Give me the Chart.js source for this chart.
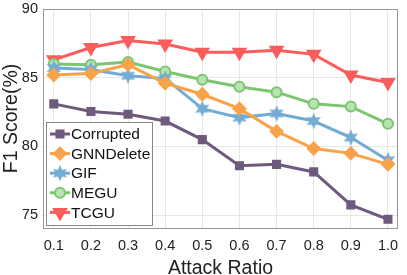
<!DOCTYPE html>
<html><head><meta charset="utf-8">
<script src="https://cdn.jsdelivr.net/npm/chart.js@4"></script>
<style>html,body{margin:0;padding:0;background:#fff}#w{width:407px;height:275px}</style>
</head><body><div id="w"><canvas id="c" width="407" height="275"></canvas></div>
<script>
const ratios = [0.1,0.2,0.3,0.4,0.5,0.6,0.7,0.8,0.9,1.0];
const xTickLabels = ['0.1','0.2','0.3','0.4','0.5','0.6','0.7','0.8','0.9','1.0'];
const yTickValues = [75,80,85,90];
const corrupted = [83.1,82.55,82.35,81.85,80.5,78.6,78.7,78.15,75.75,74.7];
const gnnDelete = [85.2,85.3,85.95,84.6,83.8,82.75,81.1,79.85,79.5,78.7];
const gif = [85.7,85.6,85.15,84.95,82.75,82.1,82.4,81.85,80.65,79.0];
const megu = [86.0,85.95,86.15,85.45,84.85,84.35,83.95,83.1,82.9,81.65];
const tcgu = [86.3,87.2,87.7,87.45,86.85,86.85,87.0,86.7,85.2,84.65];
const seriesNames = ['Corrupted','GNNDelete','GIF','MEGU','TCGU'];
const colors = ['#6e5a7c','#f8a24a','#72acd5','#7cc672','#fb5c5c'];

function hexStar(color){
  const s=18, c=document.createElement('canvas'); c.width=s; c.height=s;
  const g=c.getContext('2d'); g.fillStyle=color; g.beginPath();
  const R=8.2, r=4.0, cx=s/2, cy=s/2;
  for(let k=0;k<12;k++){
    const a=-Math.PI/2+k*Math.PI/6, rr=k%2?r:R;
    const px=cx+rr*Math.cos(a), py=cy+rr*Math.sin(a);
    k?g.lineTo(px,py):g.moveTo(px,py);
  }
  g.closePath(); g.fill(); return c;
}
const shapes = ['rect','rectRot',hexStar('#72acd5'),'circle','triangle'];
const rots = [0,0,0,0,180];
const values = [corrupted,gnnDelete,gif,megu,tcgu];

const FONT = "'Liberation Sans', Arial, sans-serif";
const datasets = values.map((v,i)=>({
  label: seriesNames[i],
  data: v.map((y,j)=>({x:ratios[j],y})),
  borderColor: colors[i],
  backgroundColor: i===3 ? '#b9e3b3' : colors[i],
  pointBackgroundColor: i===3 ? '#b9e3b3' : colors[i],
  pointBorderColor: colors[i],
  pointBorderWidth: 2,
  borderWidth: 3,
  pointStyle: shapes[i],
  pointRotation: rots[i],
  pointRadius: i===4 ? 7 : (i===1 ? 6 : 5),
  tension: 0
}));

const legendPlugin = {
  id:'inlegend',
  afterDraw(chart){
    const ctx = chart.ctx;
    const x0=46.5, y0=122.5, w=106, h=103;
    ctx.save();
    ctx.fillStyle='#fff'; ctx.fillRect(x0,y0,w,h);
    ctx.strokeStyle='#888'; ctx.lineWidth=1; ctx.strokeRect(x0,y0,w,h);
    ctx.font = "15.5px "+FONT;
    ctx.textBaseline='middle';
    chart.data.datasets.forEach((ds,i)=>{
      const cy = y0+11.5+i*19.6;
      ctx.strokeStyle=ds.borderColor; ctx.lineWidth=3;
      ctx.beginPath(); ctx.moveTo(x0+3.5,cy); ctx.lineTo(x0+23.5,cy); ctx.stroke();
      ctx.fillStyle=ds.pointBackgroundColor; ctx.lineWidth=ds.pointBorderWidth;
      Chart.helpers.drawPoint(ctx,{pointStyle:ds.pointStyle,rotation:ds.pointRotation,radius:ds.pointRadius,borderWidth:ds.pointBorderWidth},x0+13.5,cy);
      ctx.fillStyle='#111';
      ctx.fillText(ds.label, x0+24.5, cy+1);
    });
    ctx.restore();
  }
};
const framePlugin = {
  id:'frame',
  afterDraw(chart){
    const a=chart.chartArea, ctx=chart.ctx;
    ctx.save(); ctx.strokeStyle='#999'; ctx.lineWidth=1;
    ctx.strokeRect(Math.round(a.left)+0.5,Math.round(a.top)+0.5,Math.round(a.right-a.left)-1,Math.round(a.bottom-a.top));
    ctx.restore();
  }
};

new Chart(document.getElementById('c'),{
  type:'line',
  data:{datasets},
  plugins:[legendPlugin,framePlugin],
  options:{
    responsive:false, animation:false,
    layout:{padding:{left:0,right:2,top:5,bottom:0}},
    plugins:{legend:{display:false},tooltip:{enabled:false}},
    scales:{
      x:{type:'linear',min:0.071,max:1.027,
        afterBuildTicks(s){s.ticks=ratios.map(v=>({value:v}));},
        afterFit(s){s.height=47;s.paddingLeft=0;s.paddingRight=0;},
        grid:{color:'#e6e6e6',drawTicks:false},
        border:{display:false},
        ticks:{padding:9,color:'#222',font:{family:FONT,size:14.5},maxRotation:0,autoSkip:false,
          callback:(v,i)=>xTickLabels[i]},
        title:{display:true,text:'Attack Ratio',color:'#222',font:{family:FONT,size:19.5},padding:{top:0,bottom:-5}}
      },
      y:{min:74.07,max:90,
        afterBuildTicks(s){s.ticks=yTickValues.map(v=>({value:v}));},
        afterFit(s){s.width=43;s.paddingTop=0;s.paddingBottom=0;},
        grid:{color:'#e6e6e6',drawTicks:false},
        border:{display:false},
        ticks:{padding:5,color:'#222',font:{family:FONT,size:14.5}},
        title:{display:true,text:'F1 Score(%)',color:'#222',font:{family:FONT,size:19.5},padding:{bottom:0,top:0}}
      }
    }
  }
});
</script></body></html>
